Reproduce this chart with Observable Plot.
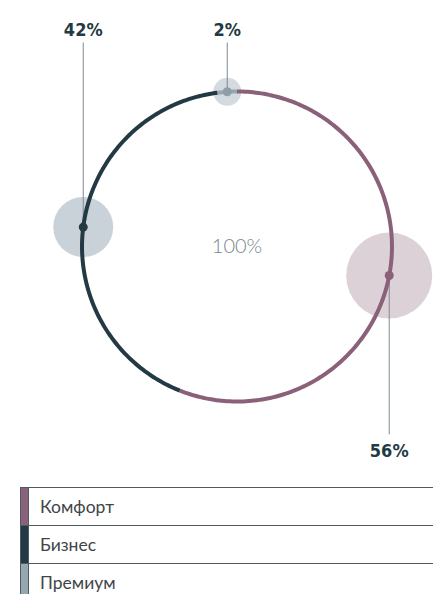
<!DOCTYPE html>
<html>
<head>
<meta charset="utf-8">
<script src="https://cdn.jsdelivr.net/npm/d3@7"></script>
<script src="https://cdn.jsdelivr.net/npm/@observablehq/plot@0.6"></script>
<style>
  html, body { margin: 0; padding: 0; background: #fff; overflow: hidden; width: 433px; height: 594px; }
  #chart svg { display: block; }
  .legend { margin-top: 17px; margin-left: 20px; width: 600px; border-left: 1px solid #4f5b62; }
  .row { display: flex; height: 37px; border-top: 1px solid #4f5b62; }
  .sw { width: 7px; border-right: 1px solid #4f5b62; }
  .lab { padding-left: 11px; font-family: Lato, "Open Sans", sans-serif; font-size: 17.5px; line-height: 37px; color: #3f454a; }
</style>
</head>
<body>
<div id="chart"></div>
<div class="legend" id="legend"></div>
<script>
const categories = ["Комфорт", "Бизнес", "Премиум"];
const shares = [56, 42, 2];
const arcColors = ["#8b6179", "#233943", "#97a7b2"];
const bubbleColors = ["#ddd1d8", "#cad2d9", "#d3dae0"];
const dotColors = ["#8b6179", "#233943", "#8e9ea9"];

const total = d3.sum(shares);

// angles clockwise from 12 o'clock, in radians
let acc = 0;
const segs = categories.map((c, i) => {
  const a0 = acc / total * 2 * Math.PI;
  acc += shares[i];
  const a1 = acc / total * 2 * Math.PI;
  return {cat: c, share: shares[i], a0, a1, i};
});

const arcPts = [];
for (const s of segs) {
  const n = Math.max(2, Math.ceil((s.a1 - s.a0) / (Math.PI / 180)));
  for (let k = 0; k <= n; k++) {
    const a = s.a0 + (s.a1 - s.a0) * k / n;
    arcPts.push({cat: s.cat, x: Math.sin(a), y: Math.cos(a)});
  }
}
const mids = segs.map(s => {
  const a = (s.a0 + s.a1) / 2;
  return {...s, x: Math.sin(a), y: Math.cos(a)};
});

const topLabelY = 1.398, topLineY = 1.316, botLabelY = -1.322, botLineY = -1.212;

const plot = Plot.plot({
  width: 433,
  height: 470,
  margin: 0,
  x: {domain: [-1.526, 1.268], range: [0, 433], axis: null},
  y: {domain: [-1.445, 1.587], range: [470, 0], axis: null},
  r: {type: "linear", domain: [2, 42, 56], range: [14, 30, 43]},
  color: {domain: categories, range: arcColors},
  marks: [
    Plot.dot(mids, {x: "x", y: "y", r: "share", fill: d => bubbleColors[d.i], stroke: "none"}),
    Plot.link(mids, {x1: "x", y1: "y", x2: "x", y2: d => d.y > 0 ? topLineY : botLineY, stroke: "#7d898f", strokeWidth: 1}),
    Plot.line(arcPts, {x: "x", y: "y", z: "cat", stroke: "cat", strokeWidth: 4, strokeLinecap: "butt"}),
    Plot.dot(mids, {x: "x", y: "y", r: 4.5, fill: d => dotColors[d.i], stroke: "none"}),
    Plot.text(mids, {x: "x", y: d => d.y > 0 ? topLabelY : botLabelY, text: d => d.share + "%",
      fontFamily: "DejaVu Sans Condensed, DejaVu Sans", fontWeight: "bold", fontSize: 18, fill: "#233943"}),
    Plot.text([total], {x: 0, y: 0, text: d => d + "%", fontFamily: "Lato, 'Open Sans', sans-serif",
      fontWeight: 300, fontSize: 20, fill: "#7a858c"})
  ]
});
document.getElementById("chart").appendChild(plot);

const legend = document.getElementById("legend");
categories.forEach((c, i) => {
  const row = document.createElement("div");
  row.className = "row";
  const sw = document.createElement("div");
  sw.className = "sw";
  sw.style.background = arcColors[i];
  const lab = document.createElement("div");
  lab.className = "lab";
  lab.textContent = c;
  row.appendChild(sw);
  row.appendChild(lab);
  legend.appendChild(row);
});
</script>
</body>
</html>
